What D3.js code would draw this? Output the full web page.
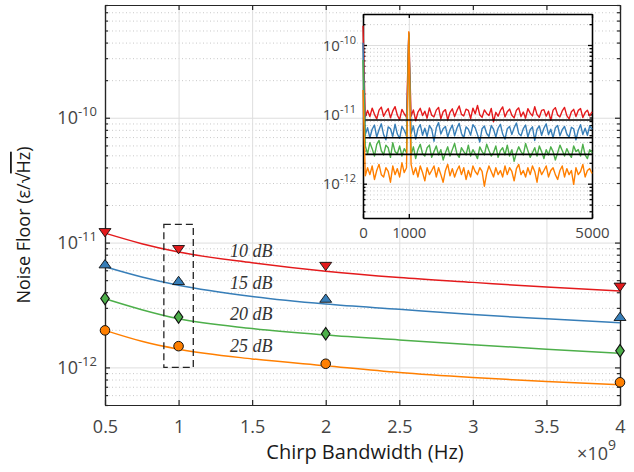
<!DOCTYPE html>
<html>
<head>
<meta charset="utf-8">
<script src="https://cdn.jsdelivr.net/npm/d3@7"></script>
<style>
  body { margin: 0; background: #fff; }
  svg text { font-family: 'Open Sans', sans-serif; }
  .grid line { stroke: #dedede; stroke-width: 1; }
  .grid.minor line { stroke: #c8c8c8; stroke-dasharray: 1 2.5; }
  .grid path { display: none; }
  .ax path, .ax line { stroke: #262626; stroke-width: 1.2; }
  .ax text { fill: #444; }
  .inset .ax path, .inset .ax line { stroke: #000; stroke-width: 1.3; }
  .lbl { font-family: 'Liberation Serif', serif !important; font-style: italic; fill: #333; }
</style>
</head>
<body>
<svg width="634" height="472"></svg>
<script>
// ---- main plot: noise floor vs chirp bandwidth (x in units of 1e9 Hz) ----
const bandwidth = [0.5, 1, 2, 4];
const snrNames = ['10 dB', '15 dB', '20 dB', '25 dB'];
const colors = ['#e41a1c', '#377eb8', '#4daf4a', '#ff7f00'];
const symbols = ['down', 'up', 'diamond', 'circle'];

const meas10 = [12.3e-12, 9.0e-12, 6.6e-12, 4.5e-12];
const meas15 = [6.6e-12, 4.85e-12, 3.5e-12, 2.5e-12];
const meas20 = [3.56e-12, 2.53e-12, 1.86e-12, 1.36e-12];
const meas25 = [1.98e-12, 1.48e-12, 1.07e-12, 0.76e-12];

// fitted curves, read at these bandwidths
const fitBandwidth = [0.5, 0.75, 1, 1.5, 2, 2.5, 3, 3.5, 4];
const fit10 = [11.9e-12, 9.8e-12, 8.4e-12, 6.9e-12, 5.9e-12, 5.25e-12, 4.8e-12, 4.4e-12, 4.1e-12];
const fit15 = [6.4e-12, 5.3e-12, 4.55e-12, 3.7e-12, 3.22e-12, 2.92e-12, 2.65e-12, 2.45e-12, 2.28e-12];
const fit20 = [3.55e-12, 2.9e-12, 2.45e-12, 2.05e-12, 1.82e-12, 1.66e-12, 1.52e-12, 1.40e-12, 1.30e-12];
const fit25 = [1.98e-12, 1.62e-12, 1.4e-12, 1.17e-12, 1.03e-12, 0.91e-12, 0.83e-12, 0.77e-12, 0.725e-12];

const xTicks = [0.5, 1, 1.5, 2, 2.5, 3, 3.5, 4];
const yTicks = [1e-12, 1e-11, 1e-10];

// ---- inset: spectra at 1 GHz, one value every 50 Hz from 0 to 5000 Hz (units 1e-12) ----
const insetStepHz = 50;
const spec10 = [190, 9.2, 11.4, 9.3, 12.3, 10.0, 8.6, 11.5, 12.7, 9.4,
  10.9, 12.1, 8.9, 11.2, 12.9, 9.7, 8.4, 11.8, 10.2, 9.1,
  150, 9.4, 11.6, 8.1, 10.8, 12.2, 9.6, 11.1, 8.8, 12.4,
  9.7, 9.2, 11.5, 12.6, 8.6, 10.9, 11.7, 8.3, 10.7, 12.0,
  9.3, 11.3, 13.2, 10.0, 9.5, 11.9, 11.4, 8.7, 12.3, 10.2,
  13.4, 9.8, 9.1, 11.6, 10.3, 9.6, 12.2, 7.8, 10.7, 9.4,
  11.4, 12.8, 9.2, 10.9, 11.9, 9.7, 8.9, 11.5, 12.4, 9.3,
  10.8, 8.8, 12.1, 10.4, 9.5, 12.9, 9.9, 9.1, 11.4, 11.7,
  9.4, 11.1, 8.2, 11.5, 12.5, 9.8, 9.2, 11.2, 12.6, 9.6,
  8.6, 10.9, 11.8, 9.3, 11.4, 12.1, 9.0, 10.6, 11.5, 9.5, 10.9];
const spec15 = [108, 5.1, 6.4, 4.6, 6.1, 7.0, 4.7, 6.0, 7.3, 5.1,
  4.3, 6.6, 6.2, 4.8, 7.2, 5.2, 4.5, 6.7, 5.9, 4.9,
  140, 5.3, 6.8, 4.4, 6.2, 7.1, 5.0, 6.3, 4.8, 6.9,
  6.1, 4.1, 6.4, 7.6, 5.2, 6.2, 6.7, 4.7, 6.0, 7.0,
  4.9, 6.3, 7.4, 5.3, 4.6, 6.6, 6.1, 5.0, 7.1, 6.4,
  5.1, 4.0, 6.2, 6.8, 5.3, 4.8, 6.9, 6.1, 4.7, 6.3,
  7.2, 5.2, 4.4, 6.2, 6.7, 5.1, 6.4, 7.5, 5.3, 4.9,
  6.2, 7.0, 4.7, 6.0, 6.6, 4.2, 6.1, 6.8, 5.0, 6.3,
  7.3, 5.1, 6.1, 4.6, 6.4, 6.9, 4.9, 6.0, 6.7, 5.2,
  4.7, 6.5, 6.2, 4.3, 5.9, 7.1, 5.1, 6.3, 5.0, 6.8, 6.1];
const spec20 = [61, 3.5, 2.7, 3.9, 3.2, 2.5, 3.7, 4.2, 3.0, 2.6,
  3.6, 3.3, 2.4, 3.9, 2.9, 2.7, 3.5, 2.5, 3.2, 2.8,
  145, 2.6, 3.4, 2.3, 3.1, 3.7, 2.7, 2.5, 3.3, 3.6,
  2.4, 2.9, 3.5, 2.6, 3.1, 2.2, 2.8, 3.4, 2.5, 3.1,
  3.8, 2.7, 2.4, 3.3, 2.9, 2.6, 3.6, 2.5, 3.1, 2.7,
  2.3, 3.4, 2.9, 2.6, 3.7, 3.0, 2.5, 2.8, 3.5, 2.4,
  3.0, 3.3, 2.6, 3.6, 2.5, 3.1, 2.1, 2.8, 3.4, 2.9,
  2.6, 3.8, 3.0, 2.4, 2.8, 3.3, 2.5, 3.5, 2.9, 2.3,
  3.1, 2.6, 3.4, 2.9, 2.2, 2.8, 3.6, 3.0, 2.5, 3.2,
  2.7, 2.4, 3.5, 2.9, 3.1, 2.5, 3.7, 2.6, 2.3, 3.1, 2.8];
const spec25 = [22.5, 1.3, 1.7, 1.35, 1.8, 1.15, 1.55, 1.9, 1.35, 1.25,
  1.7, 1.5, 1.05, 1.8, 1.35, 1.65, 1.25, 2.0, 1.45, 1.7,
  155, 1.9, 1.35, 1.7, 1.25, 1.8, 1.45, 1.1, 1.7, 1.35,
  1.55, 1.8, 1.25, 1.7, 1.35, 1.05, 1.55, 1.9, 1.3, 1.65,
  1.25, 1.55, 1.8, 1.35, 1.7, 1.15, 1.55, 1.25, 1.8, 1.5,
  1.35, 1.7, 1.5, 0.92, 1.4, 1.8, 1.5, 1.25, 1.7, 1.35,
  1.55, 1.25, 1.8, 1.35, 1.7, 1.5, 1.1, 1.65, 1.9, 1.35,
  1.55, 1.25, 1.7, 1.35, 1.8, 1.5, 1.05, 1.7, 1.35, 1.55,
  1.8, 1.25, 1.55, 1.7, 1.35, 1.15, 1.55, 1.8, 1.25, 1.65,
  1.35, 1.55, 0.98, 1.7, 1.35, 1.5, 1.9, 1.25, 1.55, 1.65, 1.4];
const insetFloor = [8.3e-12, 4.6e-12, 2.65e-12];
const insetFloorHz = [50, 5000];
const insetXTicks = [0, 1000, 5000];

const meas = [meas10, meas15, meas20, meas25];
const fits = [fit10, fit15, fit20, fit25];
const specs = [spec10, spec15, spec20, spec25];

const svg = d3.select('svg');
const isDecade = v => Math.abs(Math.log10(v) - Math.round(Math.log10(v))) < 1e-6;

function powLabel(text, exp, base, sup, rise) {
  text.append('tspan').style('font-size', base + 'px').text('10');
  text.append('tspan').style('font-size', sup + 'px').attr('dy', -rise).text(exp);
}

// ================= main axes =================
const x = d3.scaleLinear().domain([0.5, 4]).range([105, 620]);
const y = d3.scaleLog().domain([5e-13, 8e-10]).range([405, 5]);
const pw = 620 - 105, ph = 405 - 5;
const yMinor = y.ticks().filter(v => !isDecade(v));

svg.append('g').attr('class', 'grid minor').attr('transform', 'translate(105,0)')
  .call(d3.axisLeft(y).tickValues(yMinor).tickSize(-pw).tickFormat(''));
svg.append('g').attr('class', 'grid').attr('transform', 'translate(105,0)')
  .call(d3.axisLeft(y).tickValues(yTicks).tickSize(-pw).tickFormat(''));
svg.append('g').attr('class', 'grid').attr('transform', 'translate(0,405)')
  .call(d3.axisBottom(x).tickValues(xTicks).tickSize(-ph).tickFormat(''));

const bottom = svg.append('g').attr('class', 'ax').attr('transform', 'translate(0,405)')
  .call(d3.axisBottom(x).tickValues(xTicks).tickSize(-5).tickSizeOuter(0).tickPadding(15).tickFormat(d => d));
bottom.selectAll('text').style('font-size', '18px');
svg.append('g').attr('class', 'ax').attr('transform', 'translate(0,5)')
  .call(d3.axisTop(x).tickValues(xTicks).tickSize(-5).tickSizeOuter(0).tickFormat(''));

const left = svg.append('g').attr('class', 'ax').attr('transform', 'translate(105,0)')
  .call(d3.axisLeft(y).tickValues(yTicks).tickSize(-5).tickSizeOuter(0).tickFormat(''));
left.selectAll('.tick').append('text')
  .attr('x', -8).attr('y', 6).attr('text-anchor', 'end')
  .each(function (d) { powLabel(d3.select(this), String(Math.round(Math.log10(d))), 18, 13, 8); });
svg.append('g').attr('class', 'ax').attr('transform', 'translate(105,0)')
  .call(d3.axisLeft(y).tickValues(yMinor).tickSize(-3).tickSizeOuter(0).tickFormat(''));
svg.append('g').attr('class', 'ax').attr('transform', 'translate(620,0)')
  .call(d3.axisRight(y).tickValues(yTicks).tickSize(-5).tickSizeOuter(0).tickFormat(''));
svg.append('g').attr('class', 'ax').attr('transform', 'translate(620,0)')
  .call(d3.axisRight(y).tickValues(yMinor).tickSize(-3).tickSizeOuter(0).tickFormat(''));

// axis titles
svg.append('text').attr('x', 365).attr('y', 459).attr('text-anchor', 'middle')
  .style('font-size', '20px').attr('fill', '#1a1a1a').text('Chirp Bandwidth (Hz)');
const mult = svg.append('text').attr('x', 616).attr('y', 460).attr('text-anchor', 'end').attr('fill', '#444');
mult.append('tspan').style('font-size', '18px').text('\u00d710');
mult.append('tspan').style('font-size', '14px').attr('dy', -10).text('9');

const ylab = svg.append('text').attr('transform', 'translate(30,225) rotate(-90)')
  .attr('text-anchor', 'middle').style('font-size', '18px').attr('fill', '#1a1a1a');
ylab.append('tspan').text('Noise Floor (\u03b5/\u221a');
ylab.append('tspan').style('text-decoration', 'overline').text('Hz');
ylab.append('tspan').text(')');

// fitted curves
const line = d3.line().x(d => x(d[0])).y(d => y(d[1])).curve(d3.curveMonotoneX);
svg.append('g').selectAll('path').data(fits).join('path')
  .attr('d', f => line(fitBandwidth.map((b, i) => [b, f[i]])))
  .attr('fill', 'none').attr('stroke', (f, i) => colors[i]).attr('stroke-width', 1.5);

// dashed box around the 1 GHz points
svg.append('rect')
  .attr('x', x(0.9)).attr('y', y(1.4e-11))
  .attr('width', x(1.1) - x(0.9)).attr('height', y(1e-12) - y(1.4e-11))
  .attr('fill', 'none').attr('stroke', '#222').attr('stroke-width', 1.3).attr('stroke-dasharray', '7 4');

// markers
const shapeOf = {
  up: d3.symbol().type(d3.symbolTriangle).size(62),
  down: d3.symbol().type(d3.symbolTriangle).size(62),
  diamond: d3.symbol().type(d3.symbolDiamond).size(44),
  circle: d3.symbol().type(d3.symbolCircle).size(72)
};
meas.forEach((m, i) => {
  const s = symbols[i];
  svg.append('g').selectAll('path').data(m).join('path')
    .attr('d', shapeOf[s]())
    .attr('transform', (v, j) => {
      let t = `translate(${x(bandwidth[j])},${y(v)})`;
      if (s === 'down') t += ' scale(1,-0.8)';
      if (s === 'up') t += ' scale(1,0.8)';
      if (s === 'diamond') t += ' scale(1.2,1)';
      return t;
    })
    .attr('fill', colors[i]).attr('stroke', '#111').attr('stroke-width', 1);
});

// SNR labels
const labelLevel = [8.6e-12, 4.75e-12, 2.7e-12, 1.48e-12];
svg.append('g').selectAll('text').data(snrNames).join('text')
  .attr('class', 'lbl')
  .attr('x', x(1.35)).attr('y', (d, i) => y(labelLevel[i]) + 6)
  .style('font-size', '18px').text(d => d);

// ================= inset =================
const ix = d3.scaleLinear().domain([0, 5000]).range([363, 592]);
const iy = d3.scaleLog().domain([3.2e-13, 2.8e-10]).range([218, 14]);
const iw = 592 - 363, ih = 218 - 14;
const iyMinor = iy.ticks().filter(v => !isDecade(v));
const inset = svg.append('g').attr('class', 'inset');

inset.append('rect').attr('x', 363).attr('y', 14).attr('width', iw).attr('height', ih).attr('fill', '#fff');
inset.append('g').attr('class', 'grid minor').attr('transform', 'translate(363,0)')
  .call(d3.axisLeft(iy).tickValues(iyMinor).tickSize(-iw).tickFormat(''));
inset.append('g').attr('class', 'grid').attr('transform', 'translate(363,0)')
  .call(d3.axisLeft(iy).tickValues(yTicks).tickSize(-iw).tickFormat(''));
inset.append('g').attr('class', 'grid').attr('transform', 'translate(0,218)')
  .call(d3.axisBottom(ix).tickValues(insetXTicks).tickSize(-ih).tickFormat(''));

const ib = inset.append('g').attr('class', 'ax').attr('transform', 'translate(0,218)')
  .call(d3.axisBottom(ix).tickValues(insetXTicks).tickSize(-4).tickSizeOuter(0).tickPadding(9).tickFormat(d3.format('d')));
ib.selectAll('text').style('font-size', '15px').attr('fill', '#333');
inset.append('g').attr('class', 'ax').attr('transform', 'translate(0,14)')
  .call(d3.axisTop(ix).tickValues(insetXTicks).tickSize(-4).tickSizeOuter(0).tickFormat(''));
const il = inset.append('g').attr('class', 'ax').attr('transform', 'translate(363,0)')
  .call(d3.axisLeft(iy).tickValues(yTicks).tickSize(-4).tickSizeOuter(0).tickFormat(''));
il.selectAll('.tick').append('text')
  .attr('x', -7).attr('y', 5).attr('text-anchor', 'end')
  .each(function (d) { powLabel(d3.select(this), String(Math.round(Math.log10(d))), 15, 11, 7); });
inset.append('g').attr('class', 'ax').attr('transform', 'translate(363,0)')
  .call(d3.axisLeft(iy).tickValues(iyMinor).tickSize(-2.5).tickSizeOuter(0).tickFormat(''));
inset.append('g').attr('class', 'ax').attr('transform', 'translate(592,0)')
  .call(d3.axisRight(iy).tickValues(yTicks).tickSize(-4).tickSizeOuter(0).tickFormat(''));
inset.append('g').attr('class', 'ax').attr('transform', 'translate(592,0)')
  .call(d3.axisRight(iy).tickValues(iyMinor).tickSize(-2.5).tickSizeOuter(0).tickFormat(''));

// spectra and fitted floors sit on top of the inset frame
const iline = d3.line().x((v, j) => ix(j * insetStepHz)).y(v => iy(v * 1e-12));
inset.append('g').selectAll('path').data(specs).join('path')
  .attr('d', iline).attr('fill', 'none')
  .attr('stroke', (s, i) => colors[i]).attr('stroke-width', 1.4).attr('stroke-linejoin', 'round');
inset.append('g').selectAll('line').data(insetFloor).join('line')
  .attr('x1', ix(insetFloorHz[0])).attr('x2', ix(insetFloorHz[1]))
  .attr('y1', d => iy(d)).attr('y2', d => iy(d))
  .attr('stroke', '#000').attr('stroke-width', 1.6);
</script>
</body>
</html>
